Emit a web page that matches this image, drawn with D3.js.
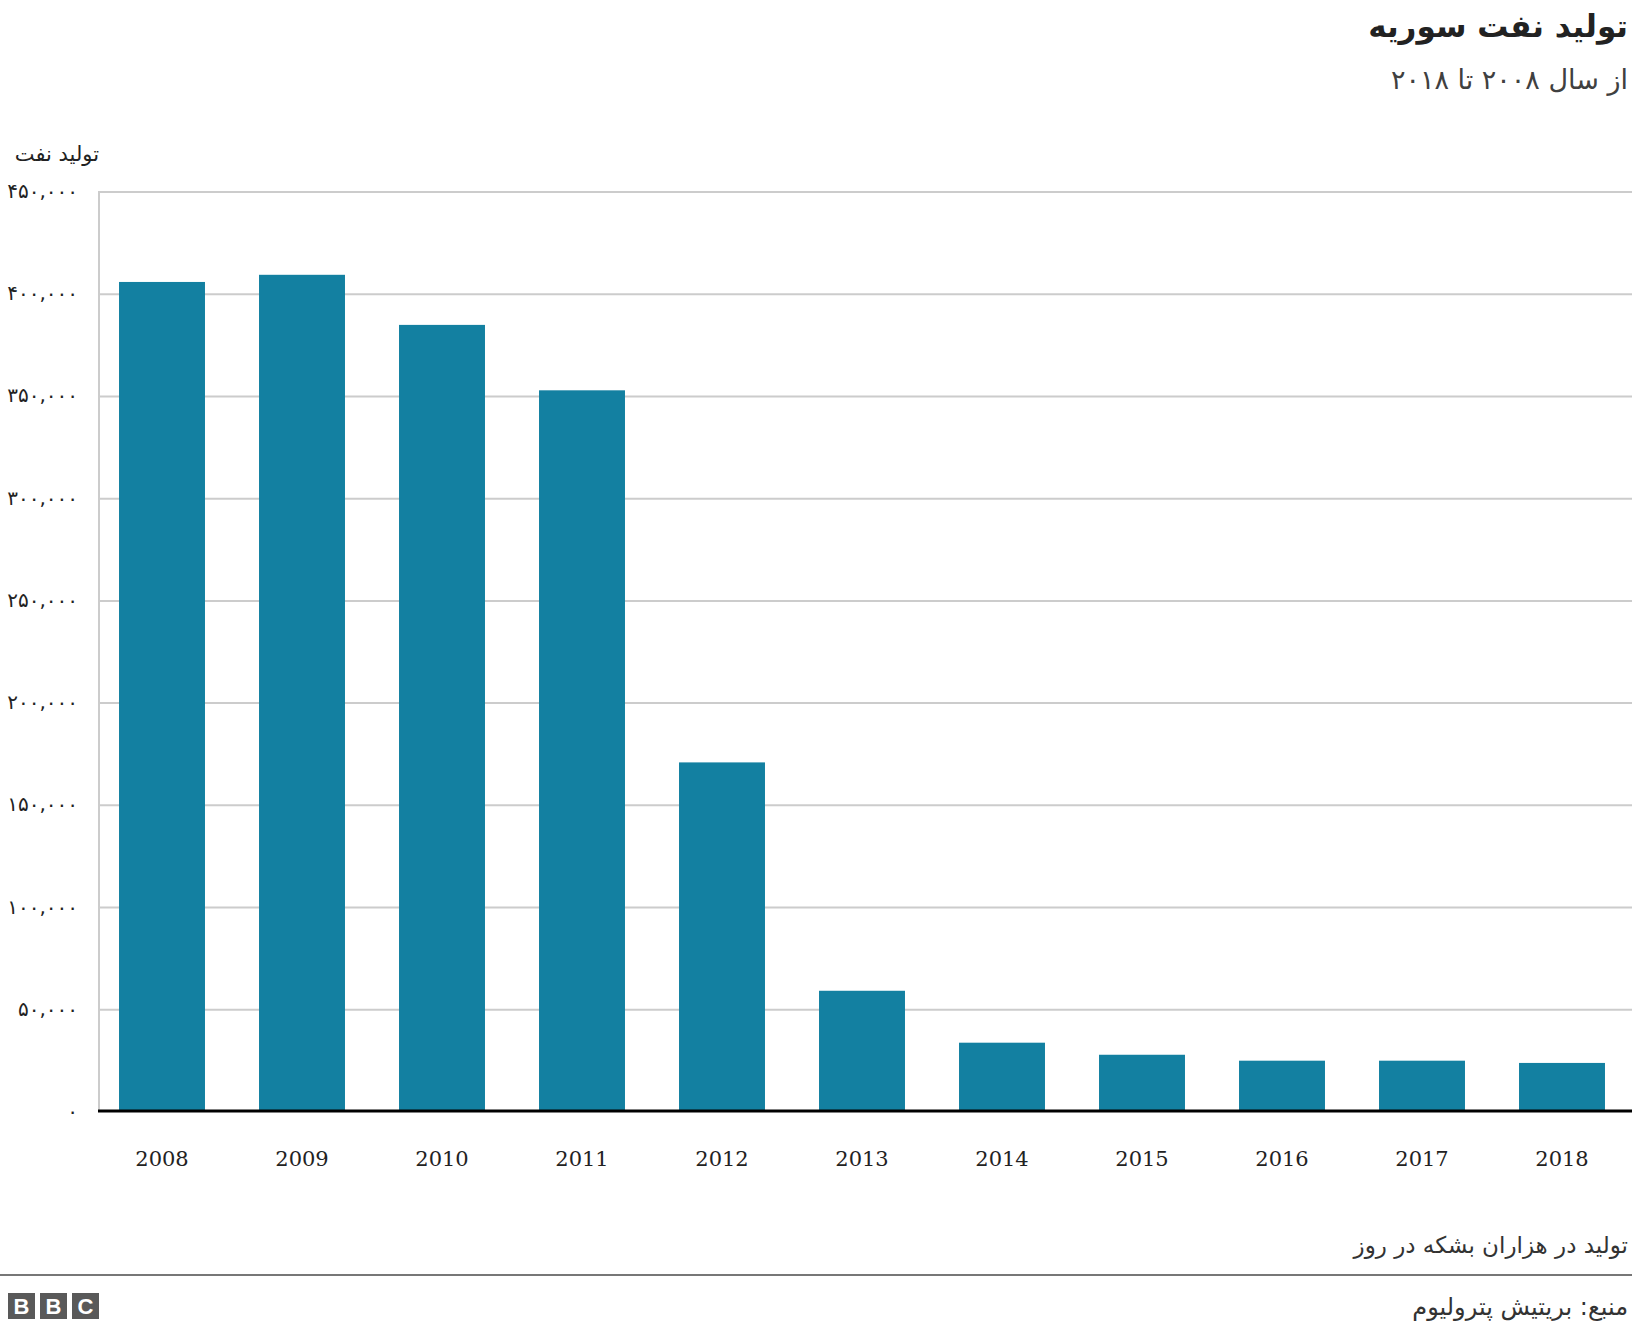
<!DOCTYPE html>
<html lang="fa">
<head>
  <meta charset="utf-8">
  <title>تولید نفت سوریه</title>
  <script src="https://d3js.org/d3.v7.min.js"></script>
  <style>
    body { margin: 0; background: #fff; }
    .fa { font-family: "DejaVu Sans", sans-serif; direction: rtl; }
    .grid line { stroke: #cccccc; stroke-width: 2; }
    .years text { font-family: "DejaVu Serif", serif; font-size: 21px; fill: #222; }
  </style>
</head>
<body>
  <div id="chart"></div>

  <script>
    "use strict"

    // داده ها: تولید نفت سوریه (بشکه در روز)
    var years = ["2008", "2009", "2010", "2011", "2012", "2013", "2014", "2015", "2016", "2017", "2018"];
    var production = [406000, 409500, 385000, 353000, 171000, 59300, 33900, 28000, 25100, 25100, 24000];
    var yTicks = [0, 50000, 100000, 150000, 200000, 250000, 300000, 350000, 400000, 450000];

    var W = 1632, H = 1332;
    var plotLeft = 99, plotRight = 1632, plotTop = 192, plotBottom = 1112;

    // ارقام فارسی
    var faDigits = "۰۱۲۳۴۵۶۷۸۹";
    function toFa(s) { return s.replace(/[0-9]/g, function(c) { return faDigits[+c]; }); }
    var fmt = d3.format(",");

    var svg = d3.select("#chart").append("svg")
      .attr("width", W)
      .attr("height", H);

    var x = d3.scaleBand()
      .domain(years)
      .range([plotLeft, 1625])
      .paddingInner(0.386)
      .paddingOuter(0.143);

    var y = d3.scaleLinear()
      .domain([0, 450000])
      .range([plotBottom, plotTop]);

    // خطوط شبکه
    var grid = svg.append("g").attr("class", "grid");
    grid.selectAll("line")
      .data(yTicks.filter(d => d > 0))
      .enter().append("line")
        .attr("x1", plotLeft).attr("x2", plotRight)
        .attr("y1", d => y(d)).attr("y2", d => y(d));

    // محور عمودی
    svg.append("line")
      .attr("x1", plotLeft).attr("x2", plotLeft)
      .attr("y1", plotTop - 1).attr("y2", plotBottom)
      .attr("stroke", "#cccccc").attr("stroke-width", 2);

    // برچسب های محور عمودی
    svg.append("g").selectAll("text")
      .data(yTicks)
      .enter().append("text")
        .attr("x", 78)
        .attr("y", d => y(d))
        .attr("dy", "0.3em")
        .attr("text-anchor", "end")
        .attr("font-family", "DejaVu Sans, sans-serif")
        .attr("font-size", 20)
        .attr("fill", "#222")
        .text(d => toFa(fmt(d)));

    // میله ها
    svg.append("g").selectAll("rect")
      .data(years)
      .enter().append("rect")
        .attr("x", d => x(d))
        .attr("width", x.bandwidth())
        .attr("y", (d, i) => y(production[i]))
        .attr("height", (d, i) => y(0) - y(production[i]))
        .attr("fill", "#1380A1");

    // خط پایه
    svg.append("line")
      .attr("x1", plotLeft - 1).attr("x2", plotRight)
      .attr("y1", plotBottom - 1).attr("y2", plotBottom - 1)
      .attr("stroke", "#000").attr("stroke-width", 3);

    // سال ها
    var axisX = svg.append("g")
      .attr("transform", "translate(0," + plotBottom + ")")
      .call(d3.axisBottom(x).tickSize(0).tickPadding(39));
    axisX.select(".domain").remove();
    axisX.attr("class", "years");
    axisX.attr("font-family", null).attr("font-size", null);

    // عنوان
    svg.append("text").attr("class", "fa")
      .attr("x", W - 4).attr("y", 37)
      .attr("text-anchor", "start")
      .attr("font-size", 31).attr("font-weight", "bold")
      .attr("fill", "#222")
      .text("تولید نفت سوریه");

    svg.append("text").attr("class", "fa")
      .attr("x", W - 4).attr("y", 89)
      .attr("text-anchor", "start")
      .attr("font-size", 27)
      .attr("fill", "#404040")
      .text("از سال ۲۰۰۸ تا ۲۰۱۸");

    svg.append("text").attr("class", "fa")
      .attr("x", 99).attr("y", 161)
      .attr("text-anchor", "start")
      .attr("font-size", 21)
      .attr("fill", "#222")
      .text("تولید نفت");

    // پانویس
    svg.append("text").attr("class", "fa")
      .attr("x", W - 4).attr("y", 1253)
      .attr("text-anchor", "start")
      .attr("font-size", 23)
      .attr("fill", "#333")
      .text("تولید در هزاران بشکه در روز");

    svg.append("line")
      .attr("x1", 0).attr("x2", W)
      .attr("y1", 1275).attr("y2", 1275)
      .attr("stroke", "#777").attr("stroke-width", 2);

    svg.append("text").attr("class", "fa")
      .attr("x", W - 4).attr("y", 1315)
      .attr("text-anchor", "start")
      .attr("font-size", 24)
      .attr("fill", "#333")
      .text("منبع: بریتیش پترولیوم");

    // لوگو
    var logo = svg.append("g").attr("transform", "translate(8,1293)");
    ["B", "B", "C"].forEach(function(ch, i) {
      logo.append("rect")
        .attr("x", i * 32).attr("y", 0)
        .attr("width", 27).attr("height", 26)
        .attr("fill", "#595959");
      logo.append("text")
        .attr("x", i * 32 + 13.5).attr("y", 21)
        .attr("text-anchor", "middle")
        .attr("font-family", "Liberation Sans, Arial, sans-serif")
        .attr("font-weight", "bold")
        .attr("font-size", 22)
        .attr("fill", "#fff")
        .text(ch);
    });
  </script>
</body>
</html>
